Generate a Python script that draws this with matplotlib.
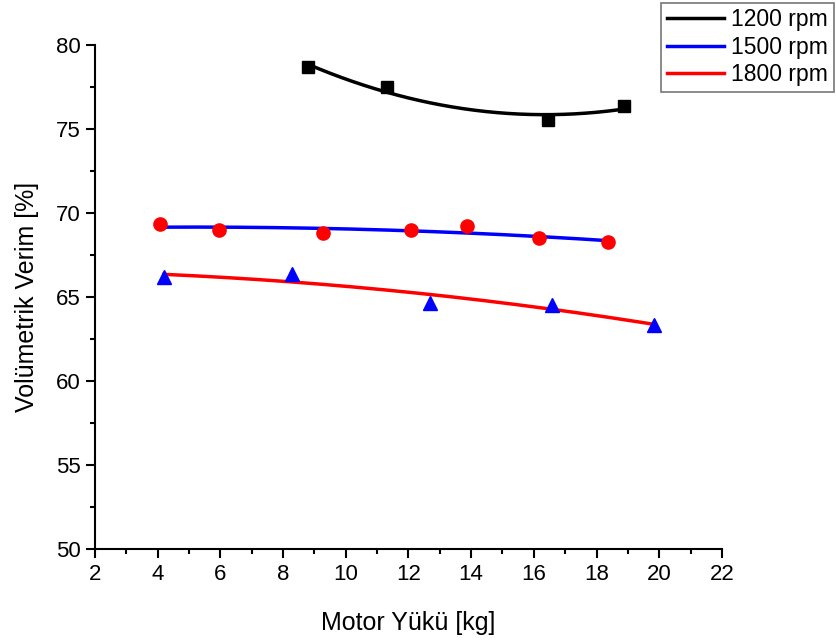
import numpy as np
import matplotlib.pyplot as plt
from matplotlib.ticker import MultipleLocator

# measured points, volumetric efficiency vs. motor load
load_1200 = [8.8, 11.3, 16.45, 18.87]
eff_1200 = [78.7, 77.5, 75.55, 76.35]

load_1500 = [4.07, 5.95, 9.27, 12.08, 13.87, 16.16, 18.36]
eff_1500 = [69.35, 69.0, 68.8, 69.0, 69.2, 68.5, 68.27]

load_1800 = [4.2, 8.28, 12.69, 16.58, 19.83]
eff_1800 = [66.2, 66.35, 64.65, 64.5, 63.35]

plt.rcParams['font.family'] = ['Liberation Sans', 'DejaVu Sans']

fig = plt.figure(figsize=(8.37, 6.44), dpi=100)
ax = fig.add_axes([0.1135, 0.1475, 0.749, 0.7825])


def fit_curve(x, y):
    # second order polynomial trend line over the measured range
    c = np.polyfit(x, y, 2)
    xs = np.linspace(min(x), max(x), 200)
    return xs, np.polyval(c, xs)


xs, ys = fit_curve(load_1200, eff_1200)
ax.plot(xs, ys, color='black', lw=2.5, label='1200 rpm')
xs, ys = fit_curve(load_1500, eff_1500)
ax.plot(xs, ys, color='#0000ff', lw=2.5, label='1500 rpm')
xs, ys = fit_curve(load_1800, eff_1800)
ax.plot(xs, ys, color='#ff0000', lw=2.5, label='1800 rpm')

ax.plot(load_1200, eff_1200, 's', color='black', ms=8.5, zorder=3)
ax.plot(load_1500, eff_1500, 'o', color='#ff0000', ms=9.5, zorder=3)
ax.plot(load_1800, eff_1800, '^', color='#0000ff', ms=10.5, zorder=3)

ax.set_xlim(2, 22)
ax.set_ylim(50, 80)
ax.xaxis.set_major_locator(MultipleLocator(2))
ax.xaxis.set_minor_locator(MultipleLocator(1))
ax.yaxis.set_major_locator(MultipleLocator(5))
ax.yaxis.set_minor_locator(MultipleLocator(2.5))
ax.tick_params(which='major', direction='out', length=6.5, width=1.5,
               labelsize=16, pad=4)
ax.tick_params(which='minor', direction='out', length=3.5, width=1.5)

for s in ['top', 'right']:
    ax.spines[s].set_visible(False)
for s in ['left', 'bottom']:
    ax.spines[s].set_linewidth(1.5)

ax.set_xlabel('Motor Yükü [kg]', fontsize=18, labelpad=19)
ax.set_ylabel('Volümetrik Verim [%]', fontsize=18, labelpad=12)

leg = fig.legend(loc='upper right', bbox_to_anchor=(0.996, 0.996), fontsize=16.5,
                 frameon=True, fancybox=False, edgecolor='#555555',
                 handlelength=2.5, handletextpad=0.3, borderpad=0.25,
                 labelspacing=0.2, borderaxespad=0)
leg.get_frame().set_linewidth(1.2)

fig.savefig('out.png', dpi=100)
